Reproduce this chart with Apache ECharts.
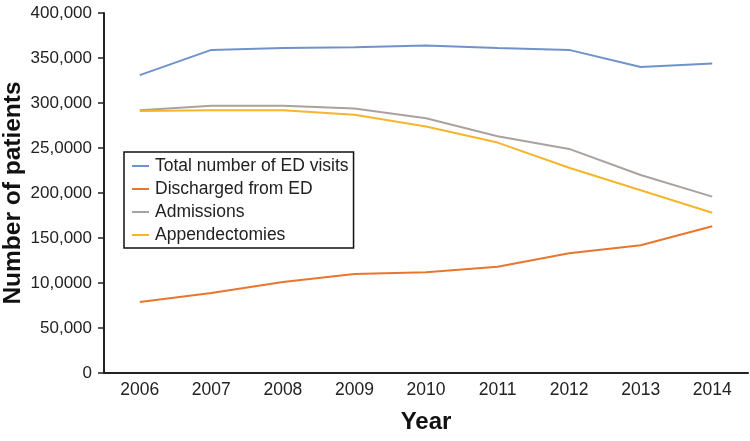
<!DOCTYPE html>
<html><head><meta charset="utf-8">
<script src="https://cdn.jsdelivr.net/npm/echarts@6/dist/echarts.min.js"></script>
<style>html,body{margin:0;padding:0;background:#fff}#c{width:750px;height:441px}</style>
</head><body><div id="c"></div>
<script>
const years = ['2006','2007','2008','2009','2010','2011','2012','2013','2014'];
const yTickLabels = ['0','50,000','10,0000','150,000','200,000','25,0000','300,000','350,000','400,000'];
const totalVisits = [331000,359000,361000,362000,364000,361000,359000,340000,344000];
const discharged = [79000,89000,101000,110000,112000,118000,133000,142000,163000];
const admissions = [292000,297000,297000,294000,283000,263000,249000,220000,196000];
const appendectomies = [291000,292000,292000,287000,274000,256000,228000,203000,178000];

const font = 'Liberation Sans, Arial, Helvetica, sans-serif';
const chart = echarts.init(document.getElementById('c'));
const mk = (name, data, color) => ({
  name, type: 'line', data, symbol: 'none', smooth: false,
  lineStyle: {color, width: 2}, itemStyle: {color}
});
chart.setOption({
  animation: false,
  grid: {left: 104, right: 2, top: 13, bottom: 68, outerBoundsMode: 'none', containLabel: false},
  legend: {
    orient: 'vertical', left: 124, top: 152,
    borderColor: '#111', borderWidth: 1.5, padding: [5, 5, 4, 8],
    itemGap: 5, itemWidth: 17, itemHeight: 2, icon: 'rect',
    textStyle: {fontFamily: font, fontSize: 17.5, color: '#222', padding: [0, 0, 0, 1]},
    data: ['Total number of ED visits','Discharged from ED','Admissions','Appendectomies']
  },
  xAxis: {
    type: 'category', data: years, boundaryGap: true,
    name: 'Year', nameLocation: 'middle', nameGap: 37, nameMoveOverlap: false,
    nameTextStyle: {fontFamily: font, fontSize: 24, fontWeight: 'bold', color: '#111'},
    axisLine: {lineStyle: {color: '#222', width: 2}},
    axisTick: {alignWithLabel: true, length: 5, lineStyle: {color: '#222', width: 1.5}},
    axisLabel: {fontFamily: font, fontSize: 17.5, color: '#222', margin: 8}
  },
  yAxis: {
    type: 'value', min: 0, max: 400000, interval: 50000,
    name: 'Number of patients', nameLocation: 'middle', nameGap: 78, nameRotate: 90, nameMoveOverlap: false,
    nameTextStyle: {fontFamily: font, fontSize: 24.5, fontWeight: 'bold', color: '#111'},
    axisLine: {show: true, lineStyle: {color: '#222', width: 2}},
    axisTick: {show: true, length: 6, lineStyle: {color: '#222', width: 1.5}},
    splitLine: {show: false},
    axisLabel: {fontFamily: font, fontSize: 17, color: '#222', margin: 12,
      formatter: (v) => yTickLabels[Math.round(v / 50000)]}
  },
  series: [
    mk('Total number of ED visits', totalVisits, '#7092CA'),
    mk('Discharged from ED', discharged, '#E8762F'),
    mk('Admissions', admissions, '#AAA29E'),
    mk('Appendectomies', appendectomies, '#F6B52C')
  ]
});
</script></body></html>
